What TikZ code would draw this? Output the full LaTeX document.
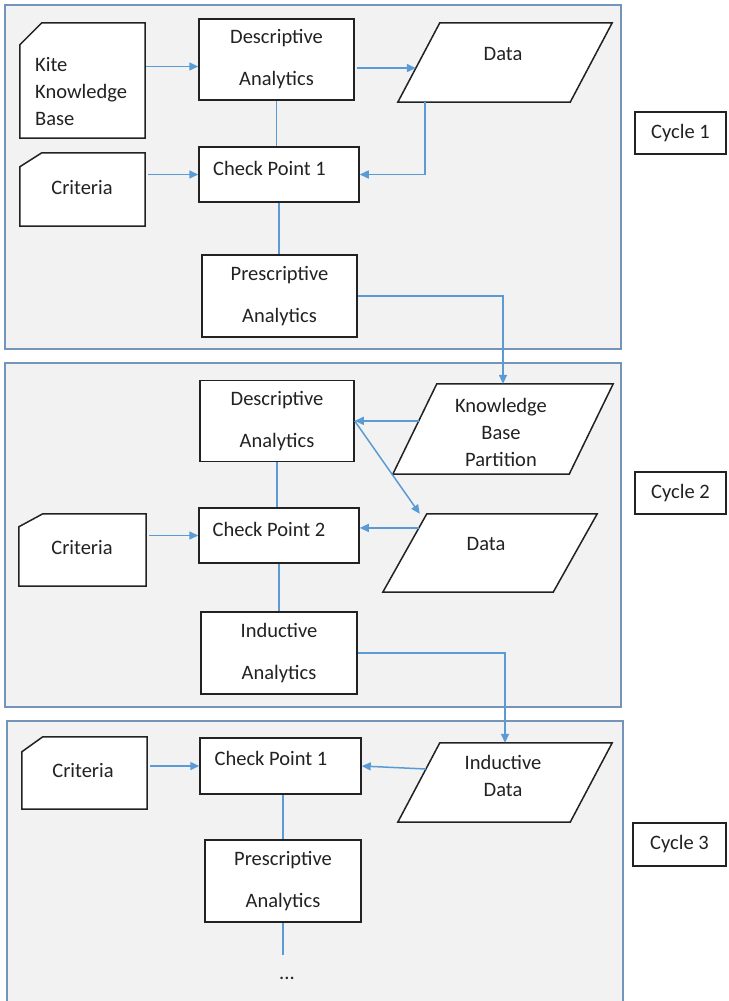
\documentclass[tikz,border=0pt]{standalone}
\usepackage{fontspec}
\setmainfont{Carlito}
\usetikzlibrary{arrows.meta,calc}
\definecolor{framefill}{HTML}{F2F2F2}
\definecolor{frameline}{HTML}{7395BA}
\definecolor{connblue}{HTML}{5B9BD5}
\definecolor{ink}{HTML}{222222}
% rectangle with its north-west corner cut off, drawn over an empty sized node
\newcommand\cutcorner[3]{%
  \draw[draw=ink, line width=1.5pt, fill=white, line join=miter]
    (#1.south west) -- (#1.south east) -- (#1.north east)
    -- ([xshift=#2pt]#1.north west) -- ([yshift=-#3pt]#1.north west) -- cycle;}
% parallelogram leaning right, filling the frame of an empty sized node
\newcommand\slantbox[2]{%
  \draw[draw=ink, line width=1.5pt, fill=white, line join=miter]
    (#1.south west) -- ([xshift=-#2pt]#1.south east) -- (#1.north east)
    -- ([xshift=#2pt]#1.north west) -- cycle;}
\begin{document}
\begin{tikzpicture}[x=1pt,y=-1pt,
  txt/.style={font=\fontsize{20.5}{27}\selectfont, text=ink, inner sep=0pt},
  ghost/.style={rectangle, inner sep=0pt},
  box/.style={rectangle, draw=ink, line width=1.5pt, fill=white, inner sep=0pt,
    align=center, text=ink, font=\fontsize{20.5}{42}\selectfont},
  cyc/.style={box, font=\fontsize{20.5}{27}\selectfont},
  conn/.style={draw=connblue, line width=1.5pt},
  arr/.style={conn, -{Triangle[length=9pt,width=8pt]}}
]
\useasboundingbox (0,0) rectangle (728,1001);
\fill[white] (0,0) rectangle (728,1001);

% cycle frames
\begin{scope}[line width=1.8pt]
  \filldraw[fill=framefill, draw=frameline] (5,5) rectangle (621,349);
  \filldraw[fill=framefill, draw=frameline] (5,363) rectangle (621,707);
  \filldraw[fill=framefill, draw=frameline] (7,721) rectangle (623,1015);
\end{scope}

% ---------- cycle 1 ----------
\node[ghost, minimum width=125pt, minimum height=115pt] (kite) at (82.5,80.5) {};
\cutcorner{kite}{22}{22}
\node[txt, align=left, anchor=west] (kitet) at (35,92) {Kite\\Knowledge\\Base};

\node[ghost, minimum width=125pt, minimum height=73pt] (crit1) at (82.5,189.5) {};
\cutcorner{crit1}{22}{14}
\node[txt] (crit1t) at (82,188) {Criteria};

\node[box, minimum width=155pt, minimum height=81pt] (desc1) at (276.5,59.5) {Descriptive\\Analytics};
\node[box, minimum width=160pt, minimum height=55pt] (cp1) at (279,174.5) {};
\node[txt] (cp1t) at (269.5,168) {Check Point 1};
\node[box, minimum width=155pt, minimum height=82pt] (presc1) at (279.5,296) {Prescriptive\\Analytics};

\node[ghost, minimum width=214pt, minimum height=79pt] (data1) at (505,62.5) {};
\slantbox{data1}{42}
\node[txt] (data1t) at (503,54) {Data};

\node[cyc, minimum width=91pt, minimum height=42pt] (cyc1) at (680.5,133) {Cycle 1};

% ---------- cycle 2 ----------
\node[box, minimum width=154pt, minimum height=81pt] (desc2) at (277,421) {Descriptive\\Analytics};

\node[ghost, minimum width=220pt, minimum height=90pt] (kbp) at (503,429) {};
\slantbox{kbp}{44}
\node[txt, align=center] (kbpt) at (501,432) {Knowledge\\Base\\Partition};

\node[ghost, minimum width=214pt, minimum height=78pt] (data2) at (490,553) {};
\slantbox{data2}{44}
\node[txt] (data2t) at (486,544) {Data};

\node[ghost, minimum width=127pt, minimum height=72pt] (crit2) at (82.5,550) {};
\cutcorner{crit2}{24}{13}
\node[txt] (crit2t) at (82,548) {Criteria};

\node[box, minimum width=160pt, minimum height=55pt] (cp2) at (279,535.5) {};
\node[txt] (cp2t) at (269,529) {Check Point 2};
\node[box, minimum width=156pt, minimum height=82pt] (ind) at (279,653) {Inductive\\Analytics};

\node[cyc, minimum width=91pt, minimum height=42pt] (cyc2) at (680.5,493) {Cycle 2};

% ---------- cycle 3 ----------
\node[ghost, minimum width=125pt, minimum height=72pt] (crit3) at (84.5,773) {};
\cutcorner{crit3}{21}{15}
\node[txt] (crit3t) at (83,771) {Criteria};

\node[box, minimum width=161pt, minimum height=56pt] (cp3) at (280.5,766) {};
\node[txt] (cp3t) at (271,758) {Check Point 1};

\node[ghost, minimum width=214pt, minimum height=79pt] (idata) at (505,782.5) {};
\slantbox{idata}{42}
\node[txt, align=center] (idatat) at (503,775.5) {Inductive\\Data};

\node[box, minimum width=156pt, minimum height=82pt] (presc3) at (283,881) {Prescriptive\\Analytics};
\node[txt] (dots) at (287,978) {...};
\coordinate (tail) at (283,955);

\node[cyc, minimum width=93pt, minimum height=43pt] (cyc3) at (679.5,844.5) {Cycle 3};

% points on the slanted left sides where connectors meet them
\coordinate (d1in) at ($(data1.south west)!0.43!([xshift=42pt]data1.north west)$);
\coordinate (kin)  at ($(kbp.south west)!0.59!([xshift=44pt]kbp.north west)$);
\coordinate (d2in) at ($(data2.south west)!0.82!([xshift=44pt]data2.north west)$);
\coordinate (idin) at ($(idata.south west)!0.67!([xshift=42pt]idata.north west)$);

% ---------- connectors ----------
\draw[arr, shorten <=1pt] ($(desc1.west -| kite.east)+(0,7)$) -- ($(desc1.west)+(0,7)$);
\draw[arr, shorten <=3pt] (cp1.west -| crit1.east) -- (cp1.west);
\draw[conn] (desc1.south) -- (desc1.south |- cp1.north);
\draw[conn] (cp1.south) -- (cp1.south |- presc1.north);
\draw[arr, shorten <=2pt] (desc1.east |- d1in) -- (d1in);
\draw[arr] ([xshift=27pt]data1.south west) |- (cp1.east);
\draw[arr] (presc1.east) -| (kbp.north);

\draw[arr] (kin) -- (kin -| desc2.east);
\draw[arr] (desc2.east) -- ([xshift=37pt]data2.north west);
\draw[arr] (d2in) -- (d2in -| cp2.east);
\draw[arr, shorten <=3pt] (cp2.west -| crit2.east) -- (cp2.west);
\draw[conn] (desc2.south) -- (desc2.south |- cp2.north);
\draw[conn] (cp2.south) -- (cp2.south |- ind.north);
\draw[arr] (ind.east) -| (idata.north);

\draw[arr] (idin) -- (cp3.east);
\draw[arr, shorten <=3pt] (cp3.west -| crit3.east) -- (cp3.west);
\draw[conn] (presc3.north |- cp3.south) -- (presc3.north);
\draw[conn] (presc3.south) -- (tail);
\end{tikzpicture}
\end{document}
